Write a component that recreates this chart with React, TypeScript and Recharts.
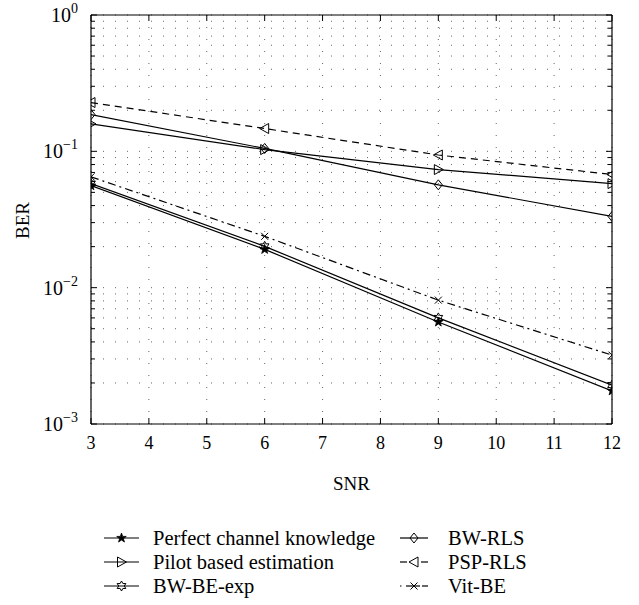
import React from 'react';
import { LineChart, Line, XAxis, YAxis, CartesianGrid } from 'recharts';

const snr = [3, 6, 9, 12];
const perfect = [0.056, 0.0191, 0.0056, 0.00175];
const pilot = [0.159, 0.103, 0.0735, 0.058];
const bwbeExp = [0.058, 0.0201, 0.006, 0.00193];
const bwRls = [0.186, 0.105, 0.0568, 0.0333];
const pspRls = [0.228, 0.147, 0.094, 0.0676];
const vitBe = [0.065, 0.0238, 0.0081, 0.0032];

const xTicks = [3, 4, 5, 6, 7, 8, 9, 10, 11, 12];
const decadeTicks = [0.001, 0.01, 0.1, 1];
const decadeLabels = ['\u22123', '\u22122', '\u22121', '0'];
const minorTicks = [
  0.002, 0.003, 0.004, 0.005, 0.006, 0.007, 0.008, 0.009,
  0.02, 0.03, 0.04, 0.05, 0.06, 0.07, 0.08, 0.09,
  0.2, 0.3, 0.4, 0.5, 0.6, 0.7, 0.8, 0.9,
];
const yTicks = [...decadeTicks, ...minorTicks].sort((a, b) => a - b);

const data = snr.map((s, i) => ({
  snr: s,
  perfect: perfect[i],
  pilot: pilot[i],
  bwbeExp: bwbeExp[i],
  bwRls: bwRls[i],
  pspRls: pspRls[i],
  vitBe: vitBe[i],
}));

const FONT = '"Liberation Serif", "DejaVu Serif", serif';
const INK = '#000';

const starPts = (cx: number, cy: number, n: number, ro: number, ri: number) => {
  const pts: string[] = [];
  for (let k = 0; k < 2 * n; k++) {
    const r = k % 2 === 0 ? ro : ri;
    const a = -Math.PI / 2 + (k * Math.PI) / n;
    pts.push(`${cx + r * Math.cos(a)},${cy + r * Math.sin(a)}`);
  }
  return pts.join(' ');
};

type MProps = { cx: number; cy: number; kind: string };
const Marker = ({ cx, cy, kind }: MProps) => {
  if (cx == null || cy == null) return <g />;
  const sp = { stroke: INK, strokeWidth: 1, fill: 'none' };
  switch (kind) {
    case 'star':
      return <polygon points={starPts(cx, cy, 5, 5, 2)} fill={INK} stroke={INK} strokeWidth={0.8} />;
    case 'hex':
      return <polygon points={starPts(cx, cy, 6, 5, 2.8)} {...sp} />;
    case 'right':
      return <polygon points={`${cx + 5},${cy} ${cx - 4},${cy - 5} ${cx - 4},${cy + 5}`} {...sp} />;
    case 'left':
      return <polygon points={`${cx - 5},${cy} ${cx + 4},${cy - 5} ${cx + 4},${cy + 5}`} {...sp} />;
    case 'diamond':
      return <polygon points={`${cx},${cy - 5} ${cx + 4},${cy} ${cx},${cy + 5} ${cx - 4},${cy}`} {...sp} />;
    case 'x':
      return (
        <g stroke={INK} strokeWidth={1}>
          <line x1={cx - 3.5} y1={cy - 3.5} x2={cx + 3.5} y2={cy + 3.5} />
          <line x1={cx - 3.5} y1={cy + 3.5} x2={cx + 3.5} y2={cy - 3.5} />
        </g>
      );
    default:
      return <g />;
  }
};

const makeDot = (kind: string) => (p: any) => (
  <Marker key={`${kind}-${p.index}`} cx={p.cx} cy={p.cy} kind={kind} />
);

const series = [
  { key: 'perfect', name: 'Perfect channel knowledge', kind: 'star', dash: undefined as string | undefined },
  { key: 'pilot', name: 'Pilot based estimation', kind: 'right', dash: undefined },
  { key: 'bwbeExp', name: 'BW-BE-exp', kind: 'hex', dash: undefined },
  { key: 'bwRls', name: 'BW-RLS', kind: 'diamond', dash: undefined },
  { key: 'pspRls', name: 'PSP-RLS', kind: 'left', dash: '7 5' },
  { key: 'vitBe', name: 'Vit-BE', kind: 'x', dash: '8 4 2 4' },
];

const isMajor = (v: number) => decadeTicks.some((d) => Math.abs(d - v) < 1e-12);

const LeftTick = (props: any) => {
  const { x, y, payload } = props;
  const v = payload.value;
  const major = isMajor(v);
  const ax = x + 10;
  const idx = decadeTicks.findIndex((d) => Math.abs(d - v) < 1e-12);
  return (
    <g>
      <line x1={ax} x2={ax + (major ? 6 : 4)} y1={y} y2={y} stroke={INK} strokeWidth={1} />
      {major && (
        <text x={x - 3} y={y + 7} textAnchor="end" fontFamily={FONT} fontSize={20} fill={INK}>
          10
          <tspan dy={-9} fontSize={14}>{decadeLabels[idx]}</tspan>
        </text>
      )}
    </g>
  );
};

const RightTick = (props: any) => {
  const { x, y, payload } = props;
  const major = isMajor(payload.value);
  return <line x1={x} x2={x - (major ? 6 : 4)} y1={y} y2={y} stroke={INK} strokeWidth={1} />;
};

const BottomTick = (props: any) => {
  const { x, y, payload } = props;
  const ay = y - 10;
  return (
    <g>
      <line x1={x} x2={x} y1={ay} y2={ay - 6} stroke={INK} strokeWidth={1} />
      <text x={x} y={y + 15} textAnchor="middle" fontFamily={FONT} fontSize={18} fill={INK}>
        {payload.value}
      </text>
    </g>
  );
};

const TopTick = (props: any) => {
  const { x, y } = props;
  return <line x1={x} x2={x} y1={y} y2={y + 6} stroke={INK} strokeWidth={1} />;
};

const LegendSymbol = ({ x, y, kind, dashed, w }: { x: number; y: number; kind: string; dashed?: string; w: number }) => {
  const m = x + w / 2;
  let lines: React.ReactNode;
  if (dashed === 'dash') {
    lines = (
      <g stroke={INK} strokeWidth={1.2}>
        <line x1={x} x2={x + 7} y1={y} y2={y} />
        <line x1={x + w - 7} x2={x + w} y1={y} y2={y} />
      </g>
    );
  } else if (dashed === 'dashdot') {
    lines = (
      <g stroke={INK} strokeWidth={1.2}>
        <line x1={x} x2={x + 1.5} y1={y} y2={y} />
        <line x1={x + 6} x2={x + 20} y1={y} y2={y} />
        <line x1={x + w - 6} x2={x + w} y1={y} y2={y} />
      </g>
    );
  } else {
    lines = <line x1={x} x2={x + w} y1={y} y2={y} stroke={INK} strokeWidth={1.2} />;
  }
  return (
    <g>
      {lines}
      <Marker cx={m} cy={y} kind={kind} />
    </g>
  );
};

const LegendItem = ({ x, tx, y, w, s }: { x: number; tx: number; y: number; w: number; s: (typeof series)[number] }) => (
  <g>
    <LegendSymbol x={x} y={y} w={w} kind={s.kind} dashed={s.key === 'pspRls' ? 'dash' : s.key === 'vitBe' ? 'dashdot' : undefined} />
    <text x={tx} y={y + 7} fontFamily={FONT} fontSize={20.5} fill={INK}>
      {s.name}
    </text>
  </g>
);

export default function App() {
  return (
    <div style={{ position: 'absolute', left: 0, top: 0, width: 639, height: 605, background: '#fff' }}>
      <LineChart width={639} height={605} data={data} margin={{ top: 14, right: 26, left: 0, bottom: 151 }}>
        <CartesianGrid
          xAxisId="b"
          yAxisId="l"
          horizontalValues={yTicks}
          verticalValues={xTicks}
          stroke="#666"
          strokeDasharray="1 11"
          strokeWidth={1}
        />
        <XAxis
          xAxisId="b"
          dataKey="snr"
          type="number"
          domain={[3, 12]}
          ticks={xTicks}
          interval={0}
          tickSize={0}
          tickMargin={10}
          height={30}
          axisLine={{ stroke: INK, strokeWidth: 1.2 }}
          tickLine={false}
          tick={BottomTick}
          allowDataOverflow
          label={(p: any) => {
            const vb = p.viewBox;
            return (
              <text x={vb.x + vb.width / 2} y={vb.y + 66} textAnchor="middle" fontFamily={FONT} fontSize={19} fill={INK}>
                SNR
              </text>
            );
          }}
        />
        <XAxis
          xAxisId="t"
          orientation="top"
          dataKey="snr"
          type="number"
          domain={[3, 12]}
          ticks={xTicks}
          interval={0}
          tickSize={0}
          tickMargin={0}
          height={1}
          axisLine={{ stroke: INK, strokeWidth: 1.2 }}
          tickLine={false}
          tick={TopTick}
          allowDataOverflow
        />
        <YAxis
          yAxisId="l"
          type="number"
          scale="log"
          domain={[0.001, 1]}
          ticks={yTicks}
          interval={0}
          tickSize={0}
          tickMargin={10}
          width={91}
          axisLine={{ stroke: INK, strokeWidth: 1.2 }}
          tickLine={false}
          tick={LeftTick}
          allowDataOverflow
          label={(p: any) => {
            const vb = p.viewBox;
            const cy = vb.y + vb.height / 2 + 1;
            return (
              <text x={22} y={cy} transform={`rotate(-90 22 ${cy})`} textAnchor="middle" dominantBaseline="central" fontFamily={FONT} fontSize={19} fill={INK}>
                BER
              </text>
            );
          }}
        />
        <YAxis
          yAxisId="r"
          orientation="right"
          type="number"
          scale="log"
          domain={[0.001, 1]}
          ticks={yTicks}
          interval={0}
          tickSize={0}
          tickMargin={0}
          width={1}
          axisLine={{ stroke: INK, strokeWidth: 1.2 }}
          tickLine={false}
          tick={RightTick}
          allowDataOverflow
        />
        {series.map((s) => (
          <Line
            key={s.key}
            xAxisId="b"
            yAxisId="l"
            dataKey={s.key}
            name={s.name}
            stroke={INK}
            strokeWidth={1.2}
            strokeDasharray={s.dash}
            dot={makeDot(s.kind)}
            activeDot={false}
            isAnimationActive={false}
          />
        ))}
      </LineChart>
      <svg width={639} height={85} style={{ position: 'absolute', left: 0, top: 520 }}>
        <LegendItem x={104} tx={153} y={18} w={35} s={series[0]} />
        <LegendItem x={104} tx={153} y={42} w={35} s={series[1]} />
        <LegendItem x={104} tx={153} y={66} w={35} s={series[2]} />
        <LegendItem x={400} tx={448} y={18} w={28} s={series[3]} />
        <LegendItem x={400} tx={448} y={42} w={28} s={series[4]} />
        <LegendItem x={400} tx={448} y={66} w={28} s={series[5]} />
      </svg>
    </div>
  );
}
